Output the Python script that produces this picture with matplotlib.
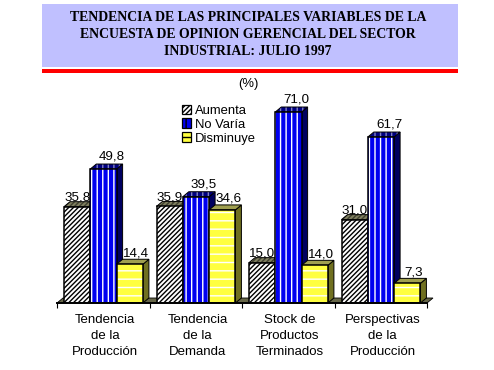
#!/usr/bin/env python3

import matplotlib
matplotlib.use("Agg")
import matplotlib.pyplot as plt
from matplotlib.patches import Patch, Polygon, Rectangle

categories = ["Tendencia\nde la\nProducción", "Tendencia\nde la\nDemanda",
              "Stock de\nProductos\nTerminados", "Perspectivas\nde la\nProducción"]
aumenta = [35.8, 35.9, 15.0, 31.0]
no_varia = [49.8, 39.5, 71.0, 61.7]
disminuye = [14.4, 34.6, 14.0, 7.3]
value_labels = [["35,8", "49,8", "14,4"], ["35,9", "39,5", "34,6"],
                ["15,0", "71,0", "14,0"], ["31,0", "61,7", "7,3"]]
title = ("TENDENCIA DE LAS PRINCIPALES VARIABLES DE LA\n"
         "ENCUESTA DE OPINION GERENCIAL DEL SECTOR\n"
         "INDUSTRIAL: JULIO 1997")

W, H = 494, 370
STYLES = [
    dict(name="Aumenta", face="white", stripe="black", hatch="///////",
         top="#808060", top_stripe="#404030", side="#606048", lab_dx=0, lab_dy=1),
    dict(name="No Varía", face="#0000F0", stripe="white", hatch="|||",
         top="#000080", top_stripe="#8080C0", side="#000060", lab_dx=8, lab_dy=4.5),
    dict(name="Disminuye", face="#FFFF40", stripe="white", hatch="--",
         top="#A0A050", top_stripe="#A0A050", side="#707020", lab_dx=6, lab_dy=3),
]

plt.rcParams["font.family"] = ["Liberation Sans", "DejaVu Sans"]
plt.rcParams["hatch.linewidth"] = 1.0

PX_PER_UNIT = 2.69
PX_PER_CAT = 92.5
DX = 6 / PX_PER_CAT
DY = 5 / PX_PER_UNIT
BAR_W = 26.3 / PX_PER_CAT
OFFSET = 7 / PX_PER_CAT

fig = plt.figure(figsize=(W / 100, H / 100), dpi=100)

# page furniture, in pixels
bg = fig.add_axes([0, 0, 1, 1])
bg.set_xlim(0, W)
bg.set_ylim(H, 0)
bg.axis("off")
bg.add_patch(Rectangle((42, 4), 416, 63, facecolor="#C0C0FF", edgecolor="none"))
bg.add_patch(Rectangle((42, 69), 416, 4, facecolor="#FF0000", edgecolor="none"))
bg.text(248, 34.5, title, ha="center", va="center", family="Liberation Serif",
        weight="bold", fontsize=9.9, linespacing=1.42)
bg.text(248, 84, "(%)", ha="center", va="center", fontsize=9.4)

ax = fig.add_axes([57 / W, 1 - 303 / H, 370 / W, 200 / H])
ax.patch.set_alpha(0)
ax.set_xlim(0, 4)
ax.set_ylim(0, 200 / PX_PER_UNIT)
ax.yaxis.set_visible(False)
for side in ["left", "right", "top"]:
    ax.spines[side].set_visible(False)
ax.spines["bottom"].set_linewidth(1.4)
ax.spines["bottom"].set_zorder(50)

ax.set_xticks(range(5))
ax.set_xticklabels([])
ax.set_xticks([i + 0.52 for i in range(4)], categories, minor=True)
ax.tick_params(axis="x", which="major", length=3.5, width=0.8)
ax.tick_params(axis="x", which="minor", length=0, pad=8, labelsize=9.5)
for lab in ax.get_xticklabels(minor=True):
    lab.set_linespacing(1.42)

# floor
ax.add_patch(Polygon([(0, 0), (DX, DY), (4 + DX, DY), (4, 0)], closed=True,
                     facecolor="#666648", edgecolor="black", linewidth=0.6,
                     clip_on=False, zorder=1))

z = 2
for i in range(4):
    for j, values in enumerate([aumenta, no_varia, disminuye]):
        st = STYLES[j]
        v = values[i]
        x0 = i + OFFSET + j * BAR_W
        x1 = x0 + BAR_W
        top = [(x0, v), (x0 + DX, v + DY), (x1 + DX, v + DY), (x1, v)]
        side = [(x1, 0), (x1 + DX, DY), (x1 + DX, v + DY), (x1, v)]
        ax.add_patch(Polygon(side, closed=True, facecolor=st["side"],
                             edgecolor="black", linewidth=0.7, clip_on=False, zorder=z))
        ax.add_patch(Polygon(top, closed=True, facecolor=st["top"],
                             edgecolor=st["top_stripe"], hatch=st["hatch"],
                             linewidth=0, clip_on=False, zorder=z))
        ax.add_patch(Polygon(top, closed=True, fill=False, edgecolor="black",
                             linewidth=0.7, clip_on=False, zorder=z))
        ax.bar(x0, v, BAR_W, align="edge", color=st["face"],
               edgecolor=st["stripe"], hatch=st["hatch"], linewidth=0, zorder=z)
        ax.bar(x0, v, BAR_W, align="edge", fill=False, edgecolor="black",
               linewidth=1.1, zorder=z)
        z += 1

for i in range(4):
    for j, values in enumerate([aumenta, no_varia, disminuye]):
        st = STYLES[j]
        x = i + OFFSET + (j + 0.5) * BAR_W + st["lab_dx"] / PX_PER_CAT
        y = values[i] + DY + st["lab_dy"] / PX_PER_UNIT
        ax.text(x, y, value_labels[i][j], ha="center", va="baseline",
                fontsize=9.6, zorder=60, clip_on=False)

handles = [Patch(facecolor=s["face"], edgecolor="black", linewidth=0.9, hatch=s["hatch"])
           for s in STYLES]
legend = fig.legend(handles, [s["name"] for s in STYLES], loc="upper left",
                    bbox_to_anchor=(182 / W, 1 - 104.5 / H), frameon=False, fontsize=9.4,
                    handlelength=0.7, handleheight=0.7, handletextpad=0.3,
                    labelspacing=0.14, borderpad=0, borderaxespad=0)

fig.savefig("out.png", dpi=100)
